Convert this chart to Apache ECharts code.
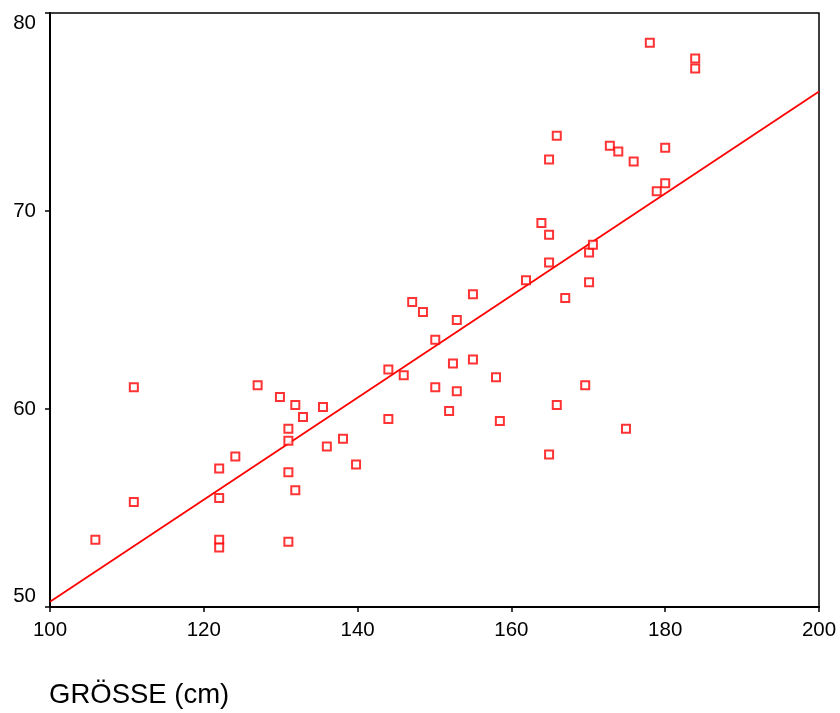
<!DOCTYPE html>
<html>
<head>
<meta charset="utf-8">
<script src="https://cdn.jsdelivr.net/npm/echarts@6/dist/echarts.min.js"></script>
<style>
  html, body { margin: 0; padding: 0; background: #fff; }
  #chart { width: 840px; height: 713px; }
</style>
</head>
<body>
<div id="chart"></div>
<script>
// Height (cm) of each subject
const heights = [
  105.9, 110.9, 110.9, 122.0, 122.0, 122.0, 122.0, 124.1, 127.0, 129.9,
  131.9, 132.9, 131.0, 131.0, 131.0, 131.0, 131.9, 135.5, 136.0, 138.1,
  139.8, 144.0, 144.0, 146.0, 147.1, 148.5, 150.1, 150.1, 151.9, 152.4,
  152.9, 152.9, 155.0, 155.0, 158.0, 158.5, 161.9, 163.9, 164.9, 164.9,
  164.9, 164.9, 165.9, 165.9, 167.0, 169.6, 170.1, 170.1, 170.6, 172.8,
  173.9, 174.9, 175.9, 178.0, 178.9, 180.0, 180.0, 183.9, 183.9
];
// Paired measurement for each subject
const values = [
  53.4, 61.1, 55.3, 57.0, 55.5, 53.4, 53.0, 57.6, 61.2, 60.6,
  60.2, 59.6, 59.0, 58.4, 56.8, 53.3, 55.9, 60.1, 58.1, 58.5,
  57.2, 62.0, 59.5, 61.7, 65.4, 64.9, 63.5, 61.1, 59.9, 62.3,
  64.5, 60.9, 65.8, 62.5, 61.6, 59.4, 66.5, 69.4, 68.8, 67.4,
  72.6, 57.7, 73.8, 60.2, 65.6, 61.2, 67.9, 66.4, 68.3, 73.3,
  73.0, 59.0, 72.5, 78.5, 71.0, 71.4, 73.2, 77.7, 77.2
];
// Fitted regression line (endpoints)
const fitX = [100, 200];
const fitY = [50.27, 76.03];

const xTicks = { min: 100, max: 200, step: 20 };
const yTicks = { min: 50, max: 80, step: 10 };

const points = heights.map((h, i) => [h, values[i]]);
const fitLine = fitX.map((x, i) => [x, fitY[i]]);

const chart = echarts.init(document.getElementById('chart'), null, { renderer: 'canvas' });
const font = 'Liberation Sans, Arial, sans-serif';

chart.setOption({
  animation: false,
  backgroundColor: '#fff',
  title: {
    text: 'GRÖSSE (cm)',
    left: 44,
    top: 676,
    textStyle: { fontFamily: font, fontSize: 27.5, fontWeight: 'normal', color: '#000' }
  },
  grid: {
    left: 50, right: 21, top: 13, bottom: 106,
    show: true, borderColor: '#000', borderWidth: 1.5, backgroundColor: '#fff'
  },
  xAxis: {
    type: 'value',
    min: xTicks.min, max: xTicks.max, interval: xTicks.step,
    splitLine: { show: false },
    axisLine: { show: true, lineStyle: { color: '#000', width: 2 } },
    axisTick: { show: true, length: 5, lineStyle: { color: '#000', width: 1.5 } },
    axisLabel: { color: '#000', fontFamily: font, fontSize: 20.5, margin: 13 }
  },
  yAxis: {
    type: 'value',
    min: yTicks.min, max: yTicks.max, interval: yTicks.step,
    splitLine: { show: false },
    axisLine: { show: true, lineStyle: { color: '#000', width: 2 } },
    axisTick: { show: true, length: 5, lineStyle: { color: '#000', width: 1.5 } },
    axisLabel: {
      color: '#000', fontFamily: font, fontSize: 20.5, margin: 14,
      verticalAlignMinLabel: 'bottom',
      verticalAlignMaxLabel: 'top'
    }
  },
  series: [
    {
      type: 'line',
      data: fitLine,
      symbol: 'none',
      lineStyle: { color: '#ff0000', width: 1.8 },
      z: 2
    },
    {
      type: 'scatter',
      data: points,
      symbol: 'rect',
      symbolSize: 8,
      itemStyle: { color: '#fff', borderColor: '#ff0000', borderWidth: 2 },
      z: 3
    }
  ]
});
</script>
</body>
</html>
